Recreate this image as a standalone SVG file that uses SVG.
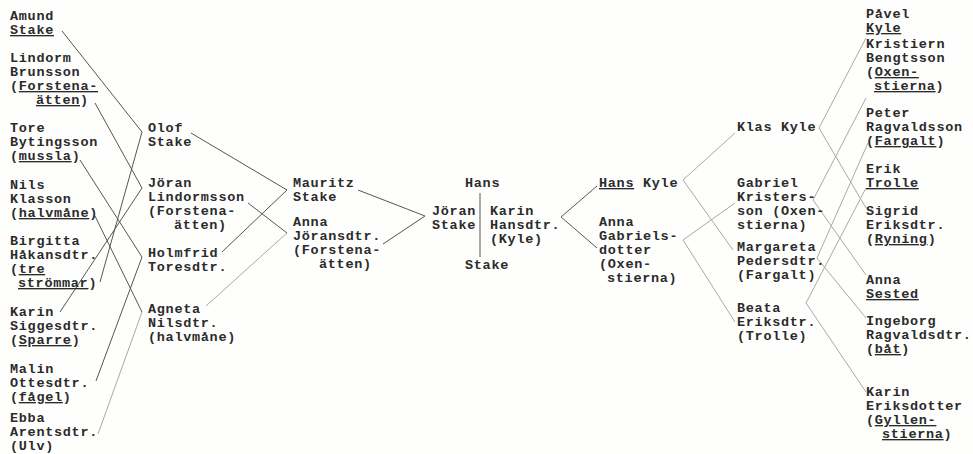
<svg xmlns="http://www.w3.org/2000/svg" width="973" height="454" viewBox="0 0 973 454">
<style>
text{font-family:"Liberation Mono","DejaVu Sans Mono",monospace;font-weight:bold;font-size:13.5px;letter-spacing:0.7px;fill:#2b2b2b}
.u{text-decoration:underline}
.ln{stroke:#555;stroke-width:1;fill:none}
.lt{stroke:#a8a8a8;stroke-width:1;fill:none}
</style>
<rect width="973" height="454" fill="#fefefd"/>
<g id="connectors">
<path class="ln" d="M62 31L142 132L100 282"/>
<path class="ln" d="M95 103L142 188L60 312"/>
<path class="ln" d="M80 160L142 257L96 381"/>
<path class="ln" d="M95 216L142 312"/>
<path class="lt" d="M142 312L98 434"/>
<path class="ln" d="M191 133L287 190L222 252"/>
<path class="ln" d="M248 203L287 233"/>
<path class="lt" d="M287 233L206 306"/>
<path class="ln" d="M358 190L425 216L383 244"/>
<path class="ln" d="M480 193V257"/>
<path class="ln" d="M597 186L561 217L597 248"/>
<path class="lt" d="M735 133L683 180L733 250"/>
<path class="lt" d="M735 203L683 240L735 322"/>
<path class="lt" d="M866 38L819 128L866 208"/>
<path class="lt" d="M866 98L813 200L866 275"/>
<path class="lt" d="M868 143L817 258L866 318"/>
<path class="lt" d="M866 188L806 303L866 392"/>
</g>
<g id="amund"><text x="10" y="20">Amund<tspan x="10" dy="14" class="u">Stake</tspan></text></g>
<g id="lindorm"><text x="10" y="62">Lindorm<tspan x="10" dy="14">Brunsson</tspan><tspan x="10" dy="14">(<tspan class="u">Forstena-</tspan></tspan><tspan x="36" dy="14" class="u">ätten</tspan><tspan>)</tspan></text></g>
<g id="tore"><text x="10" y="132">Tore<tspan x="10" dy="14">Bytingsson</tspan><tspan x="10" dy="14">(<tspan class="u">mussla</tspan>)</tspan></text></g>
<g id="nils"><text x="10" y="189">Nils<tspan x="10" dy="14">Klasson</tspan><tspan x="10" dy="14">(<tspan class="u">halvmåne</tspan>)</tspan></text></g>
<g id="birgitta"><text x="10" y="245">Birgitta<tspan x="10" dy="14">Håkansdtr.</tspan><tspan x="10" dy="14">(<tspan class="u">tre</tspan></tspan><tspan x="18" dy="14" class="u">strömmar</tspan><tspan>)</tspan></text></g>
<g id="karin-s"><text x="10" y="316">Karin<tspan x="10" dy="14">Siggesdtr.</tspan><tspan x="10" dy="14">(<tspan class="u">Sparre</tspan>)</tspan></text></g>
<g id="malin"><text x="10" y="373">Malin<tspan x="10" dy="14">Ottesdtr.</tspan><tspan x="10" dy="14">(<tspan class="u">fågel</tspan>)</tspan></text></g>
<g id="ebba"><text x="10" y="422">Ebba<tspan x="10" dy="14">Arentsdtr.</tspan><tspan x="10" dy="14">(Ulv)</tspan></text></g>
<g id="olof"><text x="148" y="132">Olof<tspan x="148" dy="14">Stake</tspan></text></g>
<g id="joran-l"><text x="148" y="187">Jöran<tspan x="148" dy="14">Lindormsson</tspan><tspan x="148" dy="14">(Forstena-</tspan><tspan x="174" dy="14">ätten)</tspan></text></g>
<g id="holmfrid"><text x="148" y="257">Holmfrid<tspan x="148" dy="14">Toresdtr.</tspan></text></g>
<g id="agneta"><text x="148" y="313">Agneta<tspan x="148" dy="14">Nilsdtr.</tspan><tspan x="148" dy="14">(halvmåne)</tspan></text></g>
<g id="mauritz"><text x="293" y="187">Mauritz<tspan x="293" dy="14">Stake</tspan></text></g>
<g id="anna-j"><text x="293" y="226">Anna<tspan x="293" dy="14">Jöransdtr.</tspan><tspan x="293" dy="14">(Forstena-</tspan><tspan x="319" dy="14">ätten)</tspan></text></g>
<g id="hans-stake"><text x="465" y="187">Hans</text><text x="465" y="269">Stake</text></g>
<g id="joran-s"><text x="432" y="215">Jöran<tspan x="432" dy="14">Stake</tspan></text></g>
<g id="karin-h"><text x="490" y="215">Karin<tspan x="490" dy="14">Hansdtr.</tspan><tspan x="490" dy="14">(Kyle)</tspan></text></g>
<g id="hans-kyle"><text x="599" y="187"><tspan class="u">Hans</tspan> Kyle</text></g>
<g id="anna-g"><text x="599" y="226">Anna<tspan x="599" dy="14">Gabriels-</tspan><tspan x="599" dy="14">dotter</tspan><tspan x="599" dy="14">(Oxen-</tspan><tspan x="607" dy="14">stierna)</tspan></text></g>
<g id="klas"><text x="737" y="131">Klas Kyle</text></g>
<g id="gabriel"><text x="737" y="187">Gabriel<tspan x="737" dy="14">Kristers-</tspan><tspan x="737" dy="14">son (Oxen-</tspan><tspan x="737" dy="14">stierna)</tspan></text></g>
<g id="margareta"><text x="737" y="251">Margareta<tspan x="737" dy="14">Pedersdtr.</tspan><tspan x="737" dy="14">(Fargalt)</tspan></text></g>
<g id="beata"><text x="737" y="312">Beata<tspan x="737" dy="14">Eriksdtr.</tspan><tspan x="737" dy="14">(Trolle)</tspan></text></g>
<g id="pavel"><text x="866" y="18">Påvel<tspan x="866" dy="14" class="u">Kyle</tspan></text></g>
<g id="kristiern"><text x="866" y="48">Kristiern<tspan x="866" dy="14">Bengtsson</tspan><tspan x="866" dy="14">(<tspan class="u">Oxen-</tspan></tspan><tspan x="874" dy="14" class="u">stierna</tspan><tspan>)</tspan></text></g>
<g id="peter"><text x="866" y="117">Peter<tspan x="866" dy="14">Ragvaldsson</tspan><tspan x="866" dy="14">(<tspan class="u">Fargalt</tspan>)</tspan></text></g>
<g id="erik"><text x="866" y="173">Erik<tspan x="866" dy="14" class="u">Trolle</tspan></text></g>
<g id="sigrid"><text x="866" y="215">Sigrid<tspan x="866" dy="14">Eriksdtr.</tspan><tspan x="866" dy="14">(<tspan class="u">Ryning</tspan>)</tspan></text></g>
<g id="anna-s"><text x="866" y="284">Anna<tspan x="866" dy="14" class="u">Sested</tspan></text></g>
<g id="ingeborg"><text x="866" y="325">Ingeborg<tspan x="866" dy="14">Ragvaldsdtr.</tspan><tspan x="866" dy="14">(<tspan class="u">båt</tspan>)</tspan></text></g>
<g id="karin-e"><text x="866" y="396">Karin<tspan x="866" dy="14">Eriksdotter</tspan><tspan x="866" dy="14">(<tspan class="u">Gyllen-</tspan></tspan><tspan x="882" dy="14" class="u">stierna</tspan><tspan>)</tspan></text></g>
</svg>
